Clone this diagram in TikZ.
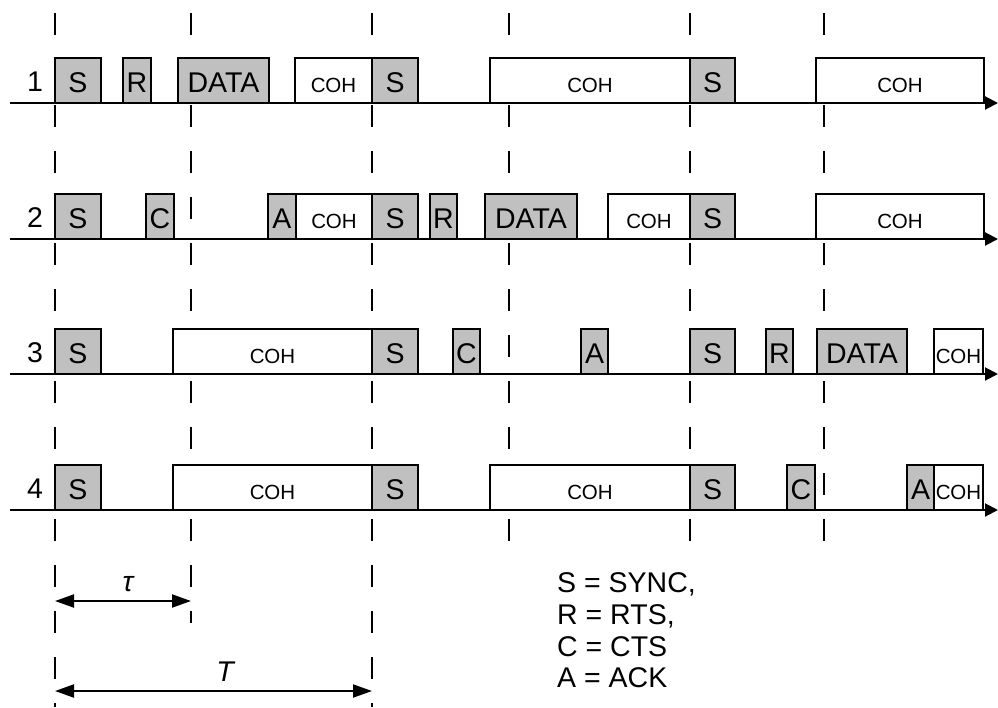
\documentclass[tikz,border=0pt]{standalone}
\usepackage{fontspec}
\setmainfont{Liberation Sans}
\usetikzlibrary{arrows.meta}
\definecolor{boxgray}{RGB}{192,192,192}
\tikzset{
  blkbase/.style={draw=black, line width=2pt, inner sep=0pt, outer sep=0pt,
    minimum height=45pt, anchor=south west},
  busy/.style={blkbase, fill=boxgray, font=\fontsize{28.5}{33}\selectfont,
    text height=23pt, text depth=0pt},
  sleep/.style={blkbase, fill=white, font=\fontsize{20.5}{24}\selectfont,
    text height=23pt, text depth=0pt},
  guide/.style={line width=2pt, dash pattern=on 22pt off 24pt},
  axisline/.style={line width=2pt, -{Triangle[length=13pt,width=13pt]}},
  dimline/.style={line width=2pt,
    {Triangle[length=19pt,width=13pt]}-{Triangle[length=19pt,width=13pt]}},
  rowlabel/.style={font=\fontsize{28.5}{33}\selectfont, inner sep=0pt},
  legendtext/.style={font=\fontsize{28.5}{33}\selectfont, inner sep=0pt, anchor=base west},
  dimlabel/.style={font=\fontsize{28.5}{33}\selectfont\itshape, inner sep=0pt},
}
\newcommand\blk[6]{%
  \pgfmathsetmacro\blkw{#3-#2}%
  \node[#5, minimum width=\blkw pt] (#1) at (#2,#4) {#6};}
\begin{document}
\begin{tikzpicture}[x=1pt, y=-1pt]
\useasboundingbox (0,0) rectangle (998,707);
% guide lines
\foreach \gx/\gy [count=\i] in {55/707, 191/623, 372/707, 509/542, 690/542, 824/542} {
  \coordinate (g\i top) at (\gx,13);
  \coordinate (g\i bot) at (\gx,\gy);
  \draw[guide] (g\i top) -- (g\i bot);
}
% axes
\foreach \ay [count=\i] in {103, 239, 374, 510} {
  \coordinate (ax\i s) at (10,\ay);
  \coordinate (ax\i e) at (998,\ay);
  \draw[axisline] (ax\i s) -- (ax\i e);
}
% row labels
\node[rowlabel] (lab1) at (35,82) {1};
\node[rowlabel] (lab2) at (35,218) {2};
\node[rowlabel] (lab3) at (35,353) {3};
\node[rowlabel] (lab4) at (35,489) {4};
% row 1
\blk{aS1}{55}{101}{103}{busy}{S}
\blk{aR}{123}{151}{103}{busy}{R}
\blk{aD}{178}{269}{103}{busy}{DATA}
\blk{aZ1}{295}{372}{103}{sleep}{СОН}
\blk{aS2}{372}{418}{103}{busy}{S}
\blk{aZ2}{490}{690}{103}{sleep}{СОН}
\blk{aS3}{690}{735}{103}{busy}{S}
\blk{aZ3}{816}{984}{103}{sleep}{СОН}
% row 2
\blk{bS1}{55}{101}{239}{busy}{S}
\blk{bC}{146}{174}{239}{busy}{C}
\blk{bA}{268}{296}{239}{busy}{A}
\blk{bZ1}{296}{372}{239}{sleep}{СОН}
\blk{bS2}{372}{418}{239}{busy}{S}
\blk{bR}{430}{457}{239}{busy}{R}
\blk{bD}{485}{577}{239}{busy}{DATA}
\blk{bZ2}{608}{690}{239}{sleep}{СОН}
\blk{bS3}{690}{735}{239}{busy}{S}
\blk{bZ3}{816}{984}{239}{sleep}{СОН}
% row 3
\blk{cS1}{55}{101}{374}{busy}{S}
\blk{cZ1}{173}{372}{374}{sleep}{СОН}
\blk{cS2}{372}{418}{374}{busy}{S}
\blk{cC}{453}{480}{374}{busy}{C}
\blk{cA}{581}{608}{374}{busy}{A}
\blk{cS3}{690}{735}{374}{busy}{S}
\blk{cR}{766}{793}{374}{busy}{R}
\blk{cD}{817}{907}{374}{busy}{DATA}
\blk{cZ2}{934}{983}{374}{sleep}{СОН}
% row 4
\blk{dS1}{55}{101}{510}{busy}{S}
\blk{dZ1}{173}{372}{510}{sleep}{СОН}
\blk{dS2}{372}{418}{510}{busy}{S}
\blk{dZ2}{490}{690}{510}{sleep}{СОН}
\blk{dS3}{690}{735}{510}{busy}{S}
\blk{dC}{787}{815}{510}{busy}{C}
\blk{dA}{907}{934}{510}{busy}{A}
\blk{dZ3}{934}{983}{510}{sleep}{СОН}
% dimension arrows
\coordinate (tauL) at (55,601);
\coordinate (tauR) at (191,601);
\draw[dimline] (tauL) -- (tauR);
\node[dimlabel] (tau) at (128,584) {τ};
\coordinate (TL) at (55,691);
\coordinate (TR) at (372,691);
\draw[dimline] (TL) -- (TR);
\node[dimlabel] (Tlab) at (225,672) {T};
% legend
\node[legendtext] (legS) at (557,592) {S = SYNC,};
\node[legendtext] (legR) at (557,624) {R = RTS,};
\node[legendtext] (legC) at (557,656) {C = CTS};
\node[legendtext] (legA) at (557,687) {A = ACK};
\end{tikzpicture}
\end{document}
